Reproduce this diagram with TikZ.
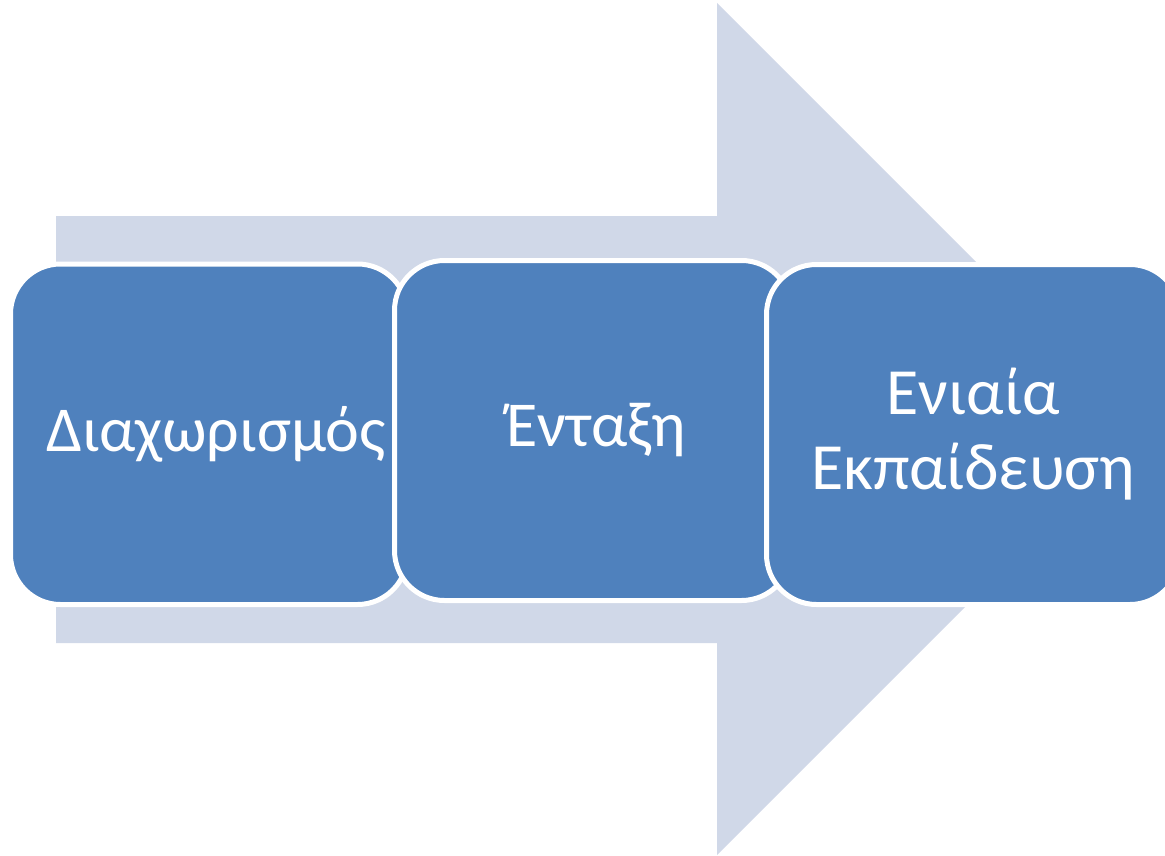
\documentclass[tikz,border=0pt]{standalone}
\usepackage{fontspec}
\setmainfont{Carlito}
\definecolor{arrowfill}{HTML}{D0D8E8}
\definecolor{boxfill}{HTML}{4F81BD}
\tikzset{
  stagebox/.style={draw=white, line width=5pt, fill=boxfill, rounded corners=50pt,
    text=white, align=center, inner sep=0pt, font=\fontsize{64}{75}\selectfont},
}
\begin{document}
\begin{tikzpicture}[x=1pt,y=-1pt]
\useasboundingbox (0,0) rectangle (1165,856);
\fill[arrowfill] (56,216) -- (717,216) -- (717,3) -- (1143,429) -- (717,855) -- (717,643) -- (56,643) -- cycle;
\node[stagebox, minimum width=397pt, minimum height=340.5pt] (s1) at (209,434.25) {\hspace*{14pt}Διαχωρισμός};
\node[stagebox, minimum width=397pt, minimum height=340pt] (s2) at (593,430.5) {\hspace*{6pt}Ένταξη};
\node[stagebox, minimum width=413.5pt, minimum height=340pt, font=\fontsize{66}{75}\selectfont] (s3) at (973.25,434.5) {Ενιαία\\Εκπαίδευση};
\end{tikzpicture}
\end{document}
